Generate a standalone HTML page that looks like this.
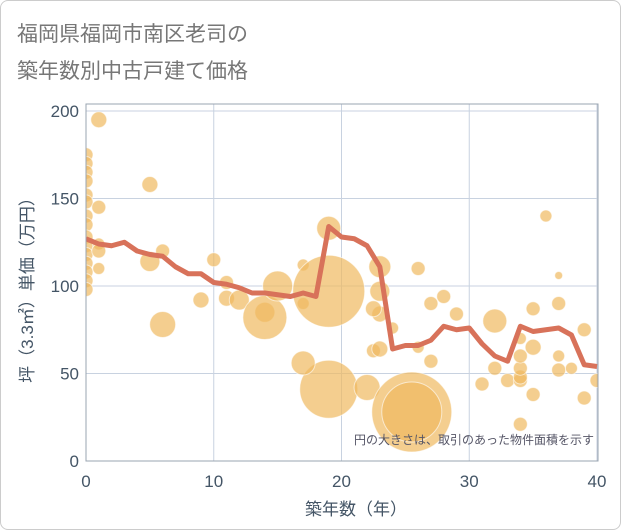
<!DOCTYPE html>
<html><head><meta charset="utf-8"><style>
body{margin:0;background:#fff;font-family:"Liberation Sans","Noto Sans CJK JP",sans-serif;}
#wrap{position:relative;width:619px;height:528px;border:1px solid #ccc;border-radius:8px;overflow:hidden;}
</style></head><body>
<div id="wrap">
<svg id="svg" width="621" height="530">
<defs><clipPath id="plotclip"><rect x="85" y="103" width="512" height="358"/></clipPath></defs>
<text x="16" y="40" font-size="21" fill="#777">福岡県福岡市南区老司の</text>
<text x="16" y="77" font-size="21" fill="#777">築年数別中古戸建て価格</text>
<g id="grid"></g>
<g id="bubbles" clip-path="url(#plotclip)"></g>
<g id="line" clip-path="url(#plotclip)"></g>
<g id="axes"></g>
<text x="593" y="443" font-size="12" fill="#556" text-anchor="end">円の大きさは、取引のあった物件面積を示す</text>
<text x="355" y="514" font-size="17" fill="#456" text-anchor="middle">築年数（年）</text>
<text transform="translate(32,285) rotate(-90)" font-size="17" fill="#456" text-anchor="middle">坪（3.3㎡）単価（万円）</text>
</svg>
</div>
<script>
const xTicks=[0,10,20,30,40];
const yTicks=[0,50,100,150,200];
const lineYears=[0,1,2,3,4,5,6,7,8,9,10,11,12,13,14,15,16,17,18,19,20,21,22,23,24,25,26,27,28,29,30,31,32,33,34,35,36,37,38,39,40];
const lineValues=[127,124,123,125,120,118,117,111,107,107,102,101,99,96,96,95,94,96,94,134,128,127,123,111,64,66,66,69,77,75,76,67,60,57,77,74,75,76,72,55,54];
const bubbleYears=[0,0,0,0,0,0,0,0,0,0,0,0,0,0,0,1,1,1,1,1,5,5,6,6,9,10,11,11,12,14,14,15,17,17,19,19,17,19,23,23,23,22.5,24,22.5,23,22,25.5,25.5,26,27,28,29,26,27,31,32,32,33,34,34,34,34,34,35,35,35,36,37,37,37,37,38,39,39,40,34];
const bubbleValues=[175,170,165,160,152,148,140,135,128,123,118,113,108,103,98,195,145,124,120,110,158,114,120,78,92,115,102,93,92,85,82,100,112,90,97,41,56,133,111,97,84,87,76,63,64,42,28,28,110,90,94,84,65,57,44,80,53,46,46,48,53,60,21,65,87,38,140,106,90,60,52,53,75,36,46,70];
const bubbleSizes=[7,7,7,7,7,7,7,7,7,7,7,7,7,7,7,8,7,6,7,6,8,10,7,13,8,7,7,8,10,10,22,15,6,6,36,29,12,12,11,10,8,8,6,7,8,13,40,30,7,7,7,7,6,7,7,12,7,7,7,7,7,7,7,8,7,7,6,4,7,6,7,6,7,7,7,6];
const X0=85,X1=596,Y0=460,Y1=110;
const sx=v=>X0+(v-0)/40*(X1-X0);
const sy=v=>Y0-(v/200)*(Y0-Y1);
const NS="http://www.w3.org/2000/svg";
function mk(tag,attrs,parent){const e=document.createElementNS(NS,tag);for(const k in attrs)e.setAttribute(k,attrs[k]);parent.appendChild(e);return e;}
const grid=document.getElementById('grid'),axes=document.getElementById('axes');
xTicks.forEach(t=>{
 const l=mk('line',{x1:sx(t),x2:sx(t),y1:103,y2:Y0,stroke:'#c8d2e0','stroke-width':1},grid);
 
 
 const tx=mk('text',{x:sx(t),y:486,'font-size':17,fill:'#456','text-anchor':'middle'},axes);
 tx.textContent=t;
 
 
});
yTicks.forEach(t=>{
 const l=mk('line',{x1:X0,x2:X1,y1:sy(t),y2:sy(t),stroke:'#c8d2e0','stroke-width':1},grid);
 
 
 const tx=mk('text',{x:78,y:sy(t)+6,'font-size':17,fill:'#456','text-anchor':'end'},axes);
 tx.textContent=t;
 
 
});
const frame=mk('rect',{x:X0,y:103,width:X1-X0+1,height:Y0-103,fill:'none',stroke:'#9aa4b0','stroke-width':1},axes);


const bg=document.getElementById('bubbles');
bubbleYears.forEach((yr,i)=>{
 const c=mk('circle',{cx:sx(yr),cy:sy(bubbleValues[i]),r:bubbleSizes[i],fill:'#f0b960','fill-opacity':0.7,stroke:'#fff','stroke-opacity':0.6,'stroke-width':1},bg);
 
 
});
const pts=lineYears.map((y,i)=>sx(y)+','+sy(lineValues[i])).join(' ');
const pl=mk('polyline',{points:pts,fill:'none',stroke:'#d8725a','stroke-width':5,'stroke-linejoin':'round'},document.getElementById('line'));


</script>
</body></html>
